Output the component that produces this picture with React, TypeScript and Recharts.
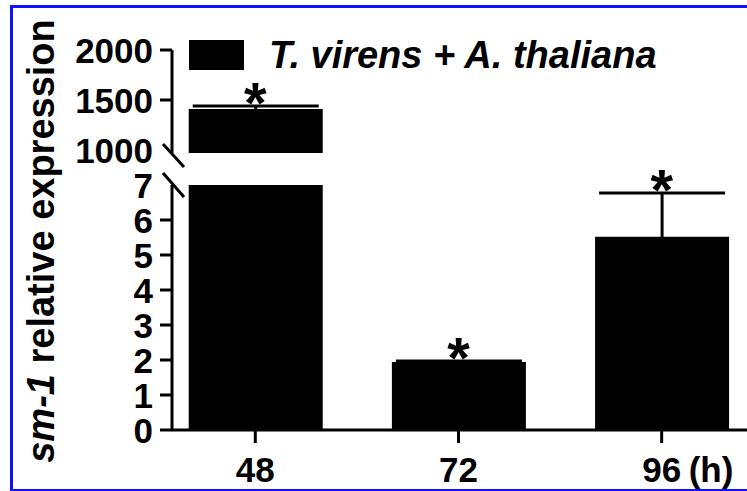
import {
  ComposedChart, Bar, Line, ErrorBar, XAxis, YAxis,
} from "recharts";

const categories = ["48", "72", "96"];
const expression = [1410, 1.94, 5.52];
const errorUp = [30, 0.03, 1.25];
const upperTicks = [1000, 1500, 2000];
const lowerTicks = [0, 1, 2, 3, 4, 5, 6, 7];
const UPPER_MIN = 970;
const LOWER_MAX = 7;

const FONT = "'Liberation Sans', Arial, Helvetica, sans-serif";
const W = 747;
const H = 491;

// split the data between the two panels of the broken axis
const upperData = categories.map((c, i) => {
  const on = expression[i] > LOWER_MAX;
  return {
    slot: i,
    name: c,
    value: on ? expression[i] : null,
    err: on ? errorUp[i] : null,
    star: on ? expression[i] + errorUp[i] : null,
  };
});

// lower panel: tall bar is cut at the top of the panel
const lowerData = categories.map((c, i) => {
  const on = expression[i] <= LOWER_MAX;
  return {
    slot: i,
    name: c,
    value: Math.min(expression[i], LOWER_MAX),
    err: on ? errorUp[i] : null,
    star: on ? expression[i] + errorUp[i] : null,
  };
});

function Star(props: any) {
  const { cx, cy, value } = props;
  if (value == null || cx == null || cy == null) return null;
  return (
    <text x={cx} y={cy + 17} textAnchor="middle" fontFamily={FONT} fontWeight="bold" fontSize={58} fill="#000">
      *
    </text>
  );
}

// y tick: own tick mark + break slash on the end next to the gap
function makeYTick(breakAt: number, slash: [number, number, number, number]) {
  return function YTick(props: any) {
    const { x, y, payload } = props;
    const ax = x + 19;
    const isBreak = payload.value === breakAt;
    return (
      <g>
        {!isBreak && <line x1={ax - 12} x2={ax} y1={y} y2={y} stroke="#000" strokeWidth={3} />}
        {isBreak && (
          <line x1={ax + slash[0]} y1={y + slash[1]} x2={ax + slash[2]} y2={y + slash[3]} stroke="#000" strokeWidth={3} />
        )}
        <text x={x} y={y} dy={12.5} textAnchor="end" fontFamily={FONT} fontWeight="bold" fontSize={35} fill="#000">
          {payload.value}
        </text>
      </g>
    );
  };
}

const UpperTick = makeYTick(1000, [-9, -6, 12, 17]);
const LowerTick = makeYTick(7, [-9, -12, 12, 12]);

function XTick(props: any) {
  const { x, y, payload, index } = props;
  const label = categories[payload.value] ?? "";
  const last = index === categories.length - 1;
  return (
    <g>
      <line x1={x} x2={x} y1={y - 13} y2={y} stroke="#000" strokeWidth={3} />
      <text x={x} y={y + 39} textAnchor="middle" fontFamily={FONT} fontWeight="bold" fontSize={35} fill="#000">
        {label}
      </text>
      {last && (
        <text x={x + 27} y={y + 39} textAnchor="start" fontFamily={FONT} fontWeight="bold" fontSize={35} fill="#000">
          (h)
        </text>
      )}
    </g>
  );
}

const xDomain = [-0.41, 2.42];

export default function App() {
  return (
    <div style={{ position: "fixed", left: 0, top: 0, width: W, height: H, overflow: "hidden", background: "#fff" }}>
      <div
        style={{
          position: "absolute", left: 10, top: 5, width: W + 20, height: H - 4,
          border: "3px solid #1010ff", boxSizing: "border-box",
        }}
      />

      {/* lower panel 0..7 */}
      <div style={{ position: "absolute", left: 0, top: 0 }}>
        <ComposedChart width={W} height={H} data={lowerData} margin={{ top: 185, right: 0, bottom: 0, left: 72 }}>
          <XAxis
            type="number" dataKey="slot" domain={xDomain} ticks={[0, 1, 2]}
            axisLine={{ stroke: "#000", strokeWidth: 3 }} tickLine={false} tickSize={13} tickMargin={0}
            tick={<XTick />} interval={0} height={61}
          />
          <YAxis
            domain={[0, LOWER_MAX]} ticks={lowerTicks} width={100}
            axisLine={{ stroke: "#000", strokeWidth: 3 }} tickLine={false} tickSize={12} tickMargin={7}
            tick={<LowerTick />} interval={0}
          />
          <Bar dataKey="value" fill="#000" barSize={134} isAnimationActive={false}>
            <ErrorBar dataKey="err" direction="y" width={63} stroke="#000" strokeWidth={3} />
          </Bar>
          <Line dataKey="star" stroke="none" dot={<Star />} activeDot={false} isAnimationActive={false} connectNulls={false} />
        </ComposedChart>
      </div>

      {/* upper panel 1000..2000 */}
      <div style={{ position: "absolute", left: 0, top: 0 }}>
        <ComposedChart width={W} height={H} data={upperData} margin={{ top: 50, right: 0, bottom: H - 153, left: 72 }}>
          <XAxis type="number" dataKey="slot" domain={xDomain} hide />
          <YAxis
            domain={[UPPER_MIN, 2000]} ticks={upperTicks} width={100}
            axisLine={{ stroke: "#000", strokeWidth: 3 }} tickLine={false} tickSize={12} tickMargin={7}
            tick={<UpperTick />} interval={0}
          />
          <Bar dataKey="value" fill="#000" barSize={134} isAnimationActive={false}>
            <ErrorBar dataKey="err" direction="y" width={63} stroke="#000" strokeWidth={3} />
          </Bar>
          <Line dataKey="star" stroke="none" dot={<Star />} activeDot={false} isAnimationActive={false} connectNulls={false} />
        </ComposedChart>
      </div>

      {/* legend */}
      <div style={{ position: "absolute", left: 189, top: 40, display: "flex", alignItems: "center" }}>
        <div style={{ width: 55, height: 30, background: "#000" }} />
        <span
          style={{
            marginLeft: 25, fontFamily: FONT, fontWeight: "bold", fontStyle: "italic",
            fontSize: 38, lineHeight: "30px", color: "#000", whiteSpace: "nowrap",
          }}
        >
          T. virens + A. thaliana
        </span>
      </div>

      {/* y axis title */}
      <svg style={{ position: "absolute", left: 0, top: 0 }} width={W} height={H} pointerEvents="none">
        <text
          x={54} y={241} transform="rotate(-90 54 241)" textAnchor="middle"
          fontFamily={FONT} fontWeight="bold" fontSize={38} fill="#000"
        >
          <tspan fontStyle="italic">sm-1</tspan> relative expression
        </text>
      </svg>
    </div>
  );
}
